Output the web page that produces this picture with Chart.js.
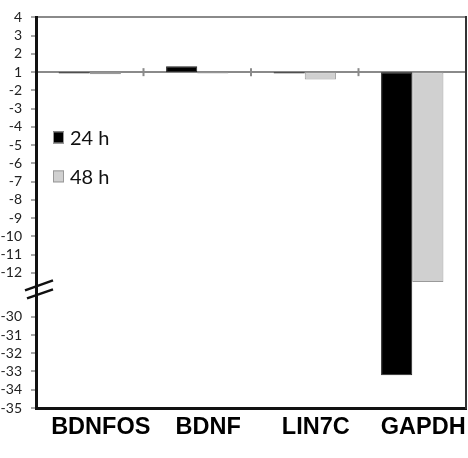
<!DOCTYPE html>
<html>
<head>
<meta charset="utf-8">
<script src="https://cdn.jsdelivr.net/npm/chart.js@4"></script>
<style>
  html, body { margin: 0; padding: 0; background: #fff; }
  #wrap { width: 468px; height: 458px; }
</style>
</head>
<body>
<div id="wrap"><canvas id="myChart" width="468" height="458"></canvas></div>
<script>
// fold change values
var genes = ["BDNFOS", "BDNF", "LIN7C", "GAPDH"];
var h24 = [-1.08, 1.33, -1.08, -33.2];
var h48 = [-1.12, -1.08, -1.4, -12.5];
var seriesNames = ["24 h", "48 h"];
// broken axis: labels shown on the y axis
var yLabels = [4, 3, 2, 1, -2, -3, -4, -5, -6, -7, -8, -9, -10, -11, -12, -30, -31, -32, -33, -34, -35];

// fold change -> slot on the broken axis (1 and -1 are the same baseline)
function pos(v) {
  if (v >= 1) return 4 - v;
  if (v > -20) return 2 - v;
  return -13.6 - v;
}
var basePos = pos(1);

var bars24 = h24.map(function(v) { return [basePos, pos(v)]; });
var bars48 = h48.map(function(v) { return [basePos, pos(v)]; });
var tickPos = yLabels.map(pos);

var extras = {
  id: "extras",
  afterDatasetsDraw: function(chart) {
    var ctx = chart.ctx, x = chart.scales.x, y = chart.scales.y;
    var area = chart.chartArea;
    var by = y.getPixelForValue(basePos);
    var half = (x.getPixelForValue(1) - x.getPixelForValue(0)) / 2;
    ctx.save();
    // small marks on the baseline between the genes
    ctx.strokeStyle = "#8a8a8a";
    ctx.lineWidth = 2;
    for (var i = 0; i < genes.length - 1; i++) {
      var xx = x.getPixelForValue(i) + half;
      ctx.beginPath();
      ctx.moveTo(xx, by - 4);
      ctx.lineTo(xx, by + 4);
      ctx.stroke();
    }
    // axis break
    var yb = y.getPixelForValue(14.9);
    ctx.strokeStyle = "#111";
    ctx.lineWidth = 2.5;
    ctx.beginPath();
    ctx.moveTo(area.left - 11, yb + 1);
    ctx.lineTo(area.left + 17, yb - 9);
    ctx.moveTo(area.left - 9, yb + 9);
    ctx.lineTo(area.left + 17, yb);
    ctx.stroke();
    // legend inside the plot
    var colors = ["#000000", "#d0d0d0"];
    ctx.font = "20px Lato";
    ctx.textBaseline = "middle";
    ctx.textAlign = "left";
    for (var k = 0; k < seriesNames.length; k++) {
      var ly = area.top + 123 + k * 39;
      ctx.fillStyle = colors[k];
      ctx.fillRect(area.left + 17, ly - 9, 11, 12);
      ctx.strokeStyle = "#999";
      ctx.lineWidth = 1;
      ctx.strokeRect(area.left + 17.5, ly - 8.5, 10, 11);
      ctx.fillStyle = "#111";
      ctx.fillText(seriesNames[k], area.left + 34, ly - 2);
    }
    ctx.restore();
  }
};

new Chart("myChart", {
  type: "bar",
  data: {
    labels: genes,
    datasets: [{
      label: seriesNames[0],
      data: bars24,
      backgroundColor: "#000000",
      borderColor: "#222222",
      borderWidth: 1,
      borderSkipped: false
    }, {
      label: seriesNames[1],
      data: bars48,
      backgroundColor: "#d0d0d0",
      borderColor: "#9a9a9a",
      borderWidth: 1,
      borderSkipped: false
    }]
  },
  options: {
    responsive: false,
    animation: false,
    layout: { padding: { top: 15, right: 0, left: 0, bottom: 0 } },
    plugins: {
      legend: { display: false },
      tooltip: { enabled: false }
    },
    datasets: { bar: { categoryPercentage: 0.58, barPercentage: 1 } },
    scales: {
      x: {
        grid: { display: false, drawTicks: false },
        border: { color: "#111", width: 3 },
        ticks: {
          color: "#000",
          font: { family: "Liberation Sans", size: 23.5, weight: "bold" },
          padding: 5,
          labelOffset: 11,
          maxRotation: 0,
          autoSkip: false
        },
        afterFit: function(s) { s.height = 50; }
      },
      y: {
        reverse: true,
        min: 0,
        max: pos(-35),
        border: { color: "#111", width: 3 },
        grid: {
          color: function(c) {
            if (c.tick && c.tick.value === basePos) return "#8a8a8a";
            if (c.tick && c.tick.value === 0) return "#8a8a8a";
            return "rgba(0,0,0,0)";
          },
          lineWidth: 2,
          tickColor: "#8a8a8a",
          tickLength: 5,
          tickWidth: 1.5
        },
        afterBuildTicks: function(s) {
          s.ticks = tickPos.map(function(v) { return { value: v }; });
        },
        ticks: {
          color: "#222",
          font: { family: "Lato", size: 14 },
          padding: 9,
          autoSkip: false,
          callback: function(value, index) { return String(yLabels[index]); }
        },
        afterFit: function(s) { s.width = 36; }
      },
      y2: {
        position: "right",
        display: true,
        grid: { display: false, drawTicks: false },
        border: { color: "#333", width: 2 },
        ticks: { display: false },
        afterFit: function(s) { s.width = 2; }
      }
    }
  },
  plugins: [extras]
});
</script>
</body>
</html>
